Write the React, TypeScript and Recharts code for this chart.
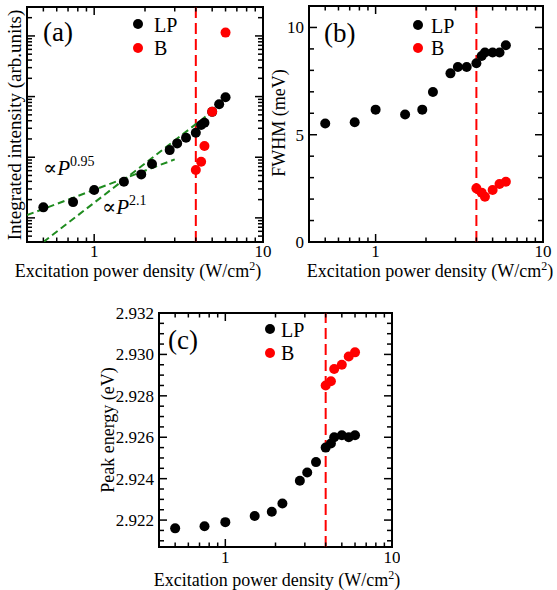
import React from 'react';
import { ScatterChart, Scatter, XAxis, YAxis, ReferenceLine, ReferenceArea } from 'recharts';

// excitation power density (W/cm^2)
const POWER_LP = [0.5, 0.75, 1.0, 1.5, 1.9, 2.2, 2.8, 3.1, 3.5, 4.0, 4.3, 4.5, 5.0, 5.5, 6.0];
const POWER_B = [4.0, 4.3, 4.5, 5.0, 5.5, 6.0];
const POWER_B_INT = [4.0, 4.3, 4.5, 5.0, 6.0];
const THRESHOLD = 4.0;

// (a) integrated intensity, arb. units
const INTENSITY_LP = [14.9, 18.2, 28.8, 39.5, 52.1, 77.2, 131, 169, 210, 254, 340, 371, 560, 745, 973];
const INTENSITY_B = [61.5, 84.4, 153, 564, 11350];
const FIT_SUB = [{ x: 0.4, y: 11.1 }, { x: 3.0, y: 92 }];
const FIT_SUPER = [{ x: 0.5, y: 4 }, { x: 6.2, y: 900 }];

// (b) FWHM, meV
const FWHM_LP = [5.52, 5.58, 6.17, 5.94, 6.17, 6.99, 7.86, 8.16, 8.16, 8.33, 8.67, 8.83, 8.83, 8.83, 9.17];
const FWHM_B = [2.5, 2.3, 2.11, 2.42, 2.7, 2.81];

// (c) peak energy, eV
const ENERGY_LP = [2.9216, 2.9217, 2.9219, 2.9222, 2.9224, 2.9228, 2.9239, 2.9243, 2.9248, 2.9255, 2.9257, 2.926, 2.9261, 2.926, 2.9261];
const ENERGY_B = [2.9285, 2.9287, 2.9293, 2.9295, 2.9299, 2.9301];

const X_MAJOR = [1, 10];
const X_TICKS = [0.4, 0.5, 0.6, 0.7, 0.8, 0.9, 1, 2, 3, 4, 5, 6, 7, 8, 9, 10];
const Y_INT_MAJOR = [10, 100, 1000, 10000];
const Y_INT_TICKS = [
  4, 5, 6, 7, 8, 9, 10, 20, 30, 40, 50, 60, 70, 80, 90, 100, 200, 300, 400, 500, 600, 700, 800, 900,
  1000, 2000, 3000, 4000, 5000, 6000, 7000, 8000, 9000, 10000, 20000,
];
const Y_FWHM_MAJOR = [0, 5, 10];
const Y_FWHM_TICKS = [0, 1, 2, 3, 4, 5, 6, 7, 8, 9, 10];
const Y_EN_MAJOR = [2.922, 2.924, 2.926, 2.928, 2.93, 2.932];
const Y_EN_TICKS = [
  2.921, 2.9215, 2.922, 2.9225, 2.923, 2.9235, 2.924, 2.9245, 2.925, 2.9255, 2.926, 2.9265,
  2.927, 2.9275, 2.928, 2.9285, 2.929, 2.9295, 2.93, 2.9305, 2.931, 2.9315, 2.932,
];

const FONT = '"Liberation Serif", "DejaVu Serif", serif';
const RED = '#ff0000';
const GREEN = '#1f8c1f';
const R = 5;

type Bounds = { left: number; right: number; top: number; bottom: number };

const isIn = (list: number[], v: number) => list.some((m) => Math.abs(m - v) < 1e-9);

const makeXTick = (b: Bounds, labelDy: number) => (props: any) => {
  const { x, payload } = props;
  const v = payload.value as number;
  const major = isIn(X_MAJOR, v);
  const len = major ? 8 : 4.5;
  return (
    <g>
      <line x1={x} x2={x} y1={b.bottom} y2={b.bottom - len} stroke="#000" strokeWidth={1.5} />
      <line x1={x} x2={x} y1={b.top} y2={b.top + len} stroke="#000" strokeWidth={1.5} />
      {major && (
        <text x={x} y={b.bottom + labelDy} textAnchor="middle" fontFamily={FONT} fontSize={17} fill="#000">
          {v}
        </text>
      )}
    </g>
  );
};

const makeYTick = (b: Bounds, majors: number[], fmt: ((v: number) => string) | null) => (props: any) => {
  const { y, payload } = props;
  const v = payload.value as number;
  const major = isIn(majors, v);
  const len = major ? 8 : 5;
  return (
    <g>
      <line x1={b.left} x2={b.left + len} y1={y} y2={y} stroke="#000" strokeWidth={1.5} />
      <line x1={b.right} x2={b.right - len} y1={y} y2={y} stroke="#000" strokeWidth={1.5} />
      {major && fmt && (
        <text x={b.left - 5} y={y + 6} textAnchor="end" fontFamily={FONT} fontSize={17} fill="#000">
          {fmt(v)}
        </text>
      )}
    </g>
  );
};

const xTitle = (cx: number, baseline: number) => () => (
  <text x={cx} y={baseline} textAnchor="middle" fontFamily={FONT} fontSize={18} fill="#000">
    Excitation power density (W/cm
    <tspan fontSize={12} dy={-7}>2</tspan>
    <tspan dy={7}>)</tspan>
  </text>
);

const yTitle = (text: string, x: number, cy: number, size: number) => () => (
  <text x={x} y={cy} transform={`rotate(-90 ${x} ${cy})`} textAnchor="middle" fontFamily={FONT} fontSize={size} fill="#000">
    {text}
  </text>
);

const dot = (fill: string) => (p: any) => <circle cx={p.cx} cy={p.cy} r={R} fill={fill} />;
const noDot = () => <g />;

const pair = (xs: number[], ys: number[]) => xs.map((x, i) => ({ x, y: ys[i] }));

const xAxisProps = (b: Bounds, labelDy: number, height: number) => ({
  type: 'number' as const,
  dataKey: 'x',
  scale: 'log' as const,
  domain: [0.4, 10],
  allowDataOverflow: true,
  ticks: X_TICKS,
  interval: 0,
  tick: makeXTick(b, labelDy),
  tickLine: false,
  axisLine: false,
  height,
});

function PanelA() {
  const b = { left: 27, right: 263, top: 7, bottom: 242 };
  return (
    <ScatterChart width={280} height={290} margin={{ top: 7, right: 17, bottom: 0, left: 0 }}>
      <XAxis {...xAxisProps(b, 15, 48)} label={xTitle(138, 277)} />
      <YAxis
        type="number"
        dataKey="y"
        scale="log"
        domain={[4, 30000]}
        allowDataOverflow
        ticks={Y_INT_TICKS}
        interval={0}
        tick={makeYTick(b, Y_INT_MAJOR, null)}
        tickLine={false}
        axisLine={false}
        width={27}
        label={yTitle('Integrated intensity (arb.units)', 21, 125, 19)}
      />
      <ReferenceLine x={THRESHOLD} stroke={RED} strokeWidth={2} strokeDasharray="11 5" />
      <Scatter data={FIT_SUB} line={{ stroke: GREEN, strokeWidth: 2, strokeDasharray: '7 4' }} shape={noDot} isAnimationActive={false} />
      <Scatter data={FIT_SUPER} line={{ stroke: GREEN, strokeWidth: 2, strokeDasharray: '7 4' }} shape={noDot} isAnimationActive={false} />
      <Scatter data={pair(POWER_LP, INTENSITY_LP)} shape={dot('#000')} isAnimationActive={false} />
      <Scatter data={pair(POWER_B_INT, INTENSITY_B)} shape={dot(RED)} isAnimationActive={false} />
      <ReferenceArea x1={0.4} x2={10} y1={4} y2={30000} fill="none" stroke="#000" strokeWidth={2} ifOverflow="visible" />
    </ScatterChart>
  );
}

function PanelB() {
  const b = { left: 44, right: 278, top: 6, bottom: 242 };
  return (
    <ScatterChart width={292} height={290} margin={{ top: 6, right: 14, bottom: 0, left: 0 }}>
      <XAxis {...xAxisProps(b, 15, 48)} label={xTitle(165, 277)} />
      <YAxis
        type="number"
        dataKey="y"
        domain={[0, 11]}
        allowDataOverflow
        ticks={Y_FWHM_TICKS}
        interval={0}
        tick={makeYTick(b, Y_FWHM_MAJOR, (v) => String(v))}
        tickLine={false}
        axisLine={false}
        width={44}
        label={yTitle('FWHM (meV)', 20, 123, 18)}
      />
      <ReferenceLine x={THRESHOLD} stroke={RED} strokeWidth={2} strokeDasharray="11 5" />
      <Scatter data={pair(POWER_LP, FWHM_LP)} shape={dot('#000')} isAnimationActive={false} />
      <Scatter data={pair(POWER_B, FWHM_B)} shape={dot(RED)} isAnimationActive={false} />
      <ReferenceArea x1={0.4} x2={10} y1={0} y2={11} fill="none" stroke="#000" strokeWidth={2} ifOverflow="visible" />
    </ScatterChart>
  );
}

function PanelC() {
  const b = { left: 79, right: 312, top: 23, bottom: 257 };
  return (
    <ScatterChart width={320} height={300} margin={{ top: 23, right: 8, bottom: 0, left: 0 }}>
      <XAxis {...xAxisProps(b, 16, 43)} label={xTitle(197, 296)} />
      <YAxis
        type="number"
        dataKey="y"
        domain={[2.9207, 2.932]}
        allowDataOverflow
        ticks={Y_EN_TICKS}
        interval={0}
        tick={makeYTick(b, Y_EN_MAJOR, (v) => v.toFixed(3))}
        tickLine={false}
        axisLine={false}
        width={79}
        label={yTitle('Peak energy (eV)', 34, 140, 18)}
      />
      <ReferenceLine x={THRESHOLD} stroke={RED} strokeWidth={2} strokeDasharray="11 5" />
      <Scatter data={pair(POWER_LP, ENERGY_LP)} shape={dot('#000')} isAnimationActive={false} />
      <Scatter data={pair(POWER_B, ENERGY_B)} shape={dot(RED)} isAnimationActive={false} />
      <ReferenceArea x1={0.4} x2={10} y1={2.9207} y2={2.932} fill="none" stroke="#000" strokeWidth={2} ifOverflow="visible" />
    </ScatterChart>
  );
}

// panel tags, legends and fit annotations, in page coordinates
function Overlay() {
  const legends = [
    { dx: 138, lpY: 24, bY: 48, tx: 154 },
    { dx: 418, lpY: 25, bY: 48, tx: 431 },
    { dx: 270, lpY: 329, bY: 353, tx: 281 },
  ];
  return (
    <svg width={557} height={590} style={{ position: 'absolute', left: 0, top: 0, pointerEvents: 'none' }}>
      <g fontFamily={FONT} fill="#000">
        <text x={43} y={41} fontSize={27}>(a)</text>
        <text x={324} y={42} fontSize={27}>(b)</text>
        <text x={168} y={349} fontSize={27}>(c)</text>
        {legends.map((l, i) => (
          <g key={i}>
            <circle cx={l.dx} cy={l.lpY} r={R} fill="#000" />
            <circle cx={l.dx} cy={l.bY} r={R} fill={RED} />
            <text x={l.tx} y={l.lpY + 8} fontSize={20}>LP</text>
            <text x={l.tx} y={l.bY + 7} fontSize={20}>B</text>
          </g>
        ))}
        <text x={43} y={175} fontSize={21}>
          ∝<tspan fontStyle="italic">P</tspan>
          <tspan fontSize={14} dy={-9}>0.95</tspan>
        </text>
        <text x={102} y={214} fontSize={21}>
          ∝<tspan fontStyle="italic">P</tspan>
          <tspan fontSize={14} dy={-9}>2.1</tspan>
        </text>
      </g>
    </svg>
  );
}

export default function App() {
  return (
    <div style={{ position: 'absolute', left: 0, top: 0, width: 557, height: 590, background: '#fff' }}>
      <div style={{ position: 'absolute', left: 0, top: 0 }}>
        <PanelA />
      </div>
      <div style={{ position: 'absolute', left: 265, top: 0 }}>
        <PanelB />
      </div>
      <div style={{ position: 'absolute', left: 80, top: 290 }}>
        <PanelC />
      </div>
      <Overlay />
    </div>
  );
}
